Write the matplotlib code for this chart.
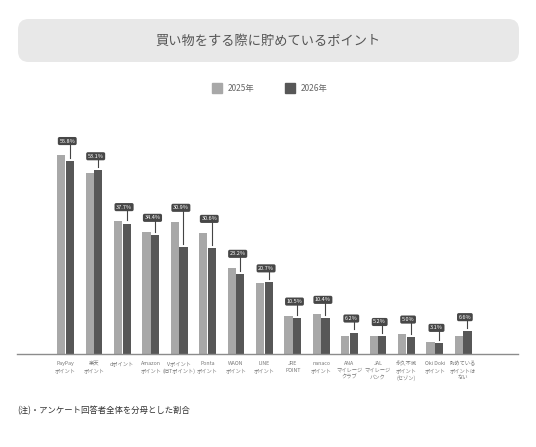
import matplotlib
matplotlib.use("Agg")
import matplotlib.pyplot as plt
from matplotlib.patches import FancyBboxPatch
from matplotlib.lines import Line2D
import numpy as np

plt.rcParams['font.family'] = ['Noto Sans CJK JP', 'DejaVu Sans']

categories = ["PayPay\nポイント", "楽天\nポイント", "dポイント", "Amazon\nポイント",
              "Vポイント\n(旧Tポイント)", "Ponta\nポイント", "WAON\nポイント", "LINE\nポイント",
              "JRE\nPOINT", "nanaco\nポイント", "ANA\nマイレージ\nクラブ", "JAL\nマイレージ\nバンク",
              "永久不滅\nポイント\n(セゾン)", "Oki Doki\nポイント", "貯めている\nポイントは\nない"]
values_2025 = [57.5, 52.2, 38.4, 35.3, 38.2, 35.0, 24.9, 20.5, 11.1, 11.6, 5.3, 5.2, 5.9, 3.5, 5.3]
values_2026 = [55.8, 53.1, 37.7, 34.4, 30.9, 30.6, 23.2, 20.7, 10.5, 10.4, 6.2, 5.2, 5.0, 3.1, 6.6]
series_names = ["2025年", "2026年"]
title = "買い物をする際に貯めているポイント"
note = "(注)・アンケート回答者全体を分母とした割合"

c25 = "#a8a8a8"
c26 = "#575757"

W, H = 536, 447
fig = plt.figure(figsize=(W / 100, H / 100), dpi=100)
fig.patch.set_facecolor("white")

# title box
x0, y0, x1, y1 = 18, 19, 519, 62
tb = FancyBboxPatch((x0 / W, 1 - y1 / H), (x1 - x0) / W, (y1 - y0) / H,
                    boxstyle="round,pad=0,rounding_size=0.02", transform=fig.transFigure,
                    facecolor="#e8e8e8", edgecolor="none", mutation_aspect=W / H)
fig.patches.append(tb)
fig.text(0.5, 1 - 41 / H, title, ha="center", va="center", fontsize=9.5, color="#555555")

# legend
handles = [Line2D([], [], marker="s", linestyle="none", markersize=7,
                  markerfacecolor=c, markeredgecolor=c) for c in (c25, c26)]
fig.legend(handles, series_names, loc="center", bbox_to_anchor=(0.5, 1 - 88 / H),
           ncol=2, frameon=False, fontsize=6, handletextpad=0.3, columnspacing=3.2,
           labelcolor="#666666")

# axes
ax_left, ax_right = 17, 518
ax_bottom, ax_top = 354, 110
ax = fig.add_axes([ax_left / W, 1 - ax_bottom / H, (ax_right - ax_left) / W, (ax_bottom - ax_top) / H])
x = np.arange(len(categories))
bw = 0.29
ax.bar(x - bw / 2 - 0.005, values_2025, width=bw, color=c25, zorder=2)
ax.bar(x + bw / 2 + 0.005, values_2026, width=bw, color=c26, zorder=2)

ax.set_xlim(-1.71, 15.93)
ax.set_ylim(0, (ax_bottom - ax_top) / 3.46)
for s in ("top", "right", "left"):
    ax.spines[s].set_visible(False)
ax.spines["bottom"].set_color("#8c8c8c")
ax.spines["bottom"].set_linewidth(1.0)
ax.set_yticks([])
ax.set_xticks(x)
ax.set_xticklabels(categories, fontsize=3.8, color="#777777", linespacing=1.5)
ax.tick_params(axis="x", length=0, pad=5)

# value callouts
for i, (a, b) in enumerate(zip(values_2025, values_2026)):
    top = max(a, b) + 3.2
    xb = i + bw / 2 + 0.005
    ax.plot([xb, xb], [b + 0.9, top], color="#444444", lw=0.8, zorder=3)
    ax.text(i + 0.06, top + 0.85, f"{b:.1f}%", ha="center", va="center", fontsize=4.0,
            color="white", zorder=4,
            bbox=dict(boxstyle="round,pad=0.28,rounding_size=0.3", facecolor="#474747",
                      edgecolor="none"))

fig.text(17 / W, 1 - 411 / H, note, ha="left", va="center", fontsize=6, color="#333333")

fig.savefig("out.png", dpi=100)
